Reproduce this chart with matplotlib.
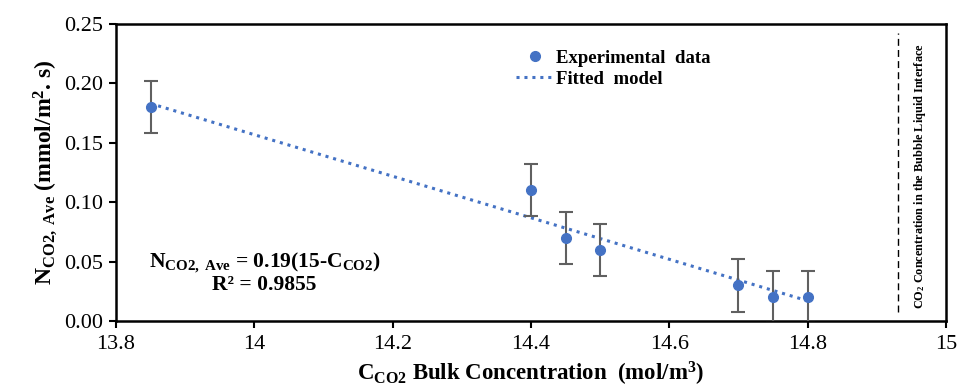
import matplotlib
matplotlib.use("Agg")
import matplotlib.pyplot as plt
from matplotlib.lines import Line2D

plt.rcParams['font.family'] = ['Liberation Serif', 'DejaVu Serif']
plt.rcParams['mathtext.fontset'] = 'custom'
plt.rcParams['mathtext.rm'] = 'Liberation Serif'
plt.rcParams['mathtext.it'] = 'Liberation Serif:italic'
plt.rcParams['mathtext.bf'] = 'Liberation Serif:bold'

# data
conc = [13.85, 14.40, 14.45, 14.50, 14.70, 14.75, 14.80]
flux = [0.180, 0.110, 0.070, 0.060, 0.030, 0.020, 0.020]
err = [0.022, 0.022, 0.022, 0.022, 0.022, 0.022, 0.022]
fit_x = [13.85, 14.80]
fit_y = [0.183, 0.017]
interface_x = 14.93
xticks = [13.8, 14.0, 14.2, 14.4, 14.6, 14.8, 15.0]
xticklabels = ['13.8', '14', '14.2', '14.4', '14.6', '14.8', '15']
yticks = [0.00, 0.05, 0.10, 0.15, 0.20, 0.25]

blue = '#4472C4'
fig = plt.figure(figsize=(9.58, 3.92), dpi=100)
ax = fig.add_axes([0.121, 0.181, 0.8665, 0.758])

ax.errorbar(conc, flux, yerr=err, fmt='o', color=blue, markersize=7,
            ecolor='#606060', elinewidth=1.5, capsize=5, capthick=1.5, zorder=3)
ax.plot(fit_x, fit_y, linestyle=(0, (1, 1.6)), color=blue, linewidth=2.2, zorder=2)
ax.plot([interface_x, interface_x], [0.008, 0.242], color='black',
        linestyle=(0, (5, 3)), linewidth=1.0)
ax.text(interface_x + 0.033, 0.122, 'CO$_{\\mathbf{2}}$ Concentration in the Bubble Liquid Interface',
        rotation=90, ha='center', va='center', fontsize=8.8, fontweight='bold')

ax.set_xlim(13.8, 15.0)
ax.set_ylim(0, 0.25)
ax.set_xticks(xticks)
ax.set_xticklabels(xticklabels)
ax.set_yticks(yticks)
ax.set_yticklabels([f'{v:.2f}' for v in yticks])
ax.tick_params(direction='out', length=5, width=1.5, labelsize=16, colors='black')
ax.tick_params(axis='x', pad=5)
ax.tick_params(axis='y', pad=4)
for s in ax.spines.values():
    s.set_linewidth(1.8)

ax.set_xlabel(r'C$_{\mathbf{CO2}}$ Bulk Concentration  (mol/m$^{\mathbf{3}}$)',
              fontsize=16.5, fontweight='bold', labelpad=4)
ax.set_ylabel(r'N$_{\mathbf{CO2,\ Ave}}$ (mmol/m$^{\mathbf{2}}$. s)',
              fontsize=17, fontweight='bold', labelpad=4)

ax.text(14.015, 0.0485, r'N$_{\mathbf{CO2,\ Ave}}$ = 0.19(15-C$_{\mathbf{CO2}}$)',
        ha='center', va='center', fontsize=15.5, fontweight='bold')
ax.text(14.015, 0.0305, 'R² = 0.9855', ha='center', va='center', fontsize=15.5,
        fontweight='bold')

handles = [Line2D([], [], marker='o', color=blue, linestyle='none', markersize=7),
           Line2D([], [], color=blue, linestyle=(0, (1, 1.6)), linewidth=2.2)]
leg = ax.legend(handles, ['Experimental  data', 'Fitted  model'], loc='upper left',
                bbox_to_anchor=(0.462, 0.97), frameon=False, handlelength=2.0,
                handletextpad=0.1, labelspacing=0.2, prop={'weight': 'bold', 'size': 13.5})

fig.savefig('out.png', dpi=100)
